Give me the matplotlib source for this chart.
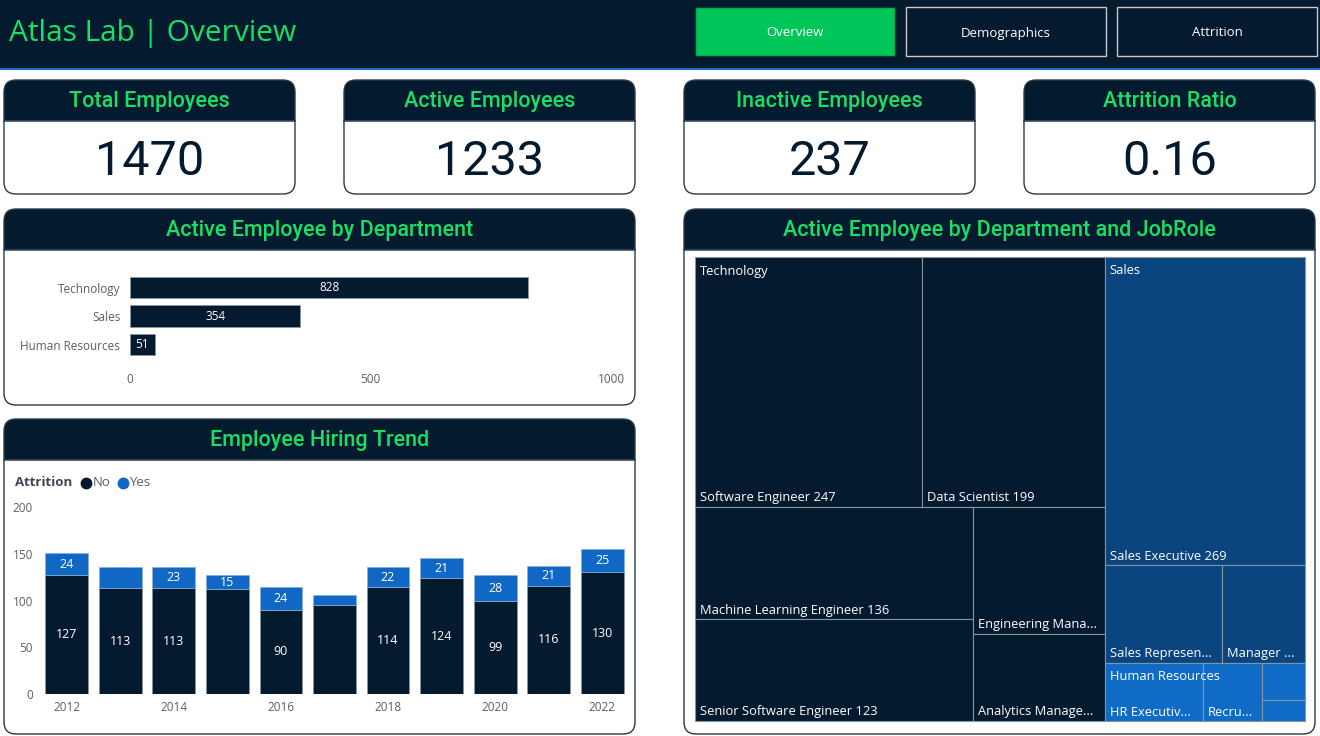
import matplotlib
matplotlib.use('Agg')
import matplotlib.pyplot as plt
from matplotlib.patches import FancyBboxPatch, Rectangle

# ---------------- data ----------------
kpi_titles = ['Total Employees', 'Active Employees', 'Inactive Employees', 'Attrition Ratio']
kpi_values = ['1470', '1233', '237', '0.16']

dept_names = ['Technology', 'Sales', 'Human Resources']
dept_active = [828, 354, 51]

years = [2012, 2013, 2014, 2015, 2016, 2017, 2018, 2019, 2020, 2021, 2022]
hired_no = [127, 113, 113, 112, 90, 95, 114, 124, 99, 116, 130]
hired_yes = [24, 23, 23, 15, 24, 11, 22, 21, 28, 21, 25]
show_no_label = [1, 1, 1, 0, 1, 0, 1, 1, 1, 1, 1]
show_yes_label = [1, 0, 1, 1, 1, 0, 1, 1, 1, 1, 1]

tm_groups = ['Technology'] * 6 + ['Sales'] * 3 + ['Human Resources'] * 4
tm_roles = ['Software Engineer', 'Data Scientist', 'Machine Learning Engineer',
            'Senior Software Engineer', 'Engineering Manager', 'Analytics Manager',
            'Sales Executive', 'Sales Representative', 'Manager',
            'HR Executive', 'Recruiter', 'HR Manager', 'HR Business Partner']
tm_values = [247, 199, 136, 123, 73, 50, 269, 50, 35, 25, 15, 7, 4]

nav_buttons = ['Overview', 'Demographics', 'Attrition']

# ---------------- style ----------------
W, H = 1320, 736
DARK = '#041A2F'
GREEN = '#19E064'
BTN_GREEN = '#00C65A'
BLUE = '#1168C4'
GROUP_COLORS = {'Technology': '#041A2F', 'Sales': '#0A4580', 'Human Resources': '#0F6BC5'}
GRAY = '#605E5C'
TITLE_FONT = ['Roboto', 'DejaVu Sans']
BODY_FONT = ['Open Sans', 'DejaVu Sans']

plt.rcParams['font.family'] = BODY_FONT

fig = plt.figure(figsize=(W / 100, H / 100), dpi=100)
fig.patch.set_facecolor('white')
ax0 = fig.add_axes([0, 0, 1, 1])
ax0.set_xlim(0, W)
ax0.set_ylim(H, 0)
ax0.axis('off')


def fax(l, t, r, b):
    a = fig.add_axes([l / W, 1 - b / H, (r - l) / W, (b - t) / H])
    a.patch.set_alpha(0)
    return a


# ---------------- header ----------------
ax0.add_patch(Rectangle((0, 0), W, 68, fc=DARK, ec='none', zorder=1))
ax0.plot([0, W], [68.5, 68.5], color='#1A6EC0', lw=1.5, zorder=2)
ax0.text(9, 34, 'Atlas Lab | Overview', color=GREEN, fontsize=21.5, family=BODY_FONT,
         va='center', ha='left', zorder=3)

btn_x = [695, 906, 1117]
for i, name in enumerate(nav_buttons):
    x = btn_x[i]
    if i == 0:
        ax0.add_patch(Rectangle((x, 7), 200, 49, fc=BTN_GREEN, ec='#0B3B2A', lw=1, zorder=3))
    else:
        ax0.add_patch(Rectangle((x, 7), 200, 49, fc=DARK, ec='#C8C8C8', lw=1, zorder=3))
    ax0.text(x + 100, 33, name, color='white', fontsize=9.5, ha='center', va='center', zorder=4)


# ---------------- cards ----------------
def card(x0, y0, x1, y1, hb, title, r=12):
    ax0.add_patch(FancyBboxPatch((x0, y0), x1 - x0, y1 - y0,
                                 boxstyle=f'round,pad=0,rounding_size={r}',
                                 fc=DARK, ec='none', zorder=1))
    ax0.add_patch(FancyBboxPatch((x0, hb), x1 - x0, y1 - hb,
                                 boxstyle=f'round,pad=0,rounding_size={r}',
                                 fc='white', ec='none', zorder=2))
    ax0.add_patch(Rectangle((x0, hb), x1 - x0, r + 2, fc='white', ec='none', zorder=2))
    ax0.plot([x0, x1], [hb, hb], color='#3A4C5E', lw=1.2, zorder=3)
    ax0.add_patch(FancyBboxPatch((x0, y0), x1 - x0, y1 - y0,
                                 boxstyle=f'round,pad=0,rounding_size={r}',
                                 fc='none', ec='#2E3A46', lw=1, zorder=4))
    ax0.text((x0 + x1) / 2, (y0 + hb) / 2 + 1, title, color=GREEN, fontsize=15.5,
             family=TITLE_FONT, fontweight='medium', ha='center', va='center', zorder=5)


kpi_x = [4, 344, 684, 1024]
for i in range(4):
    x = kpi_x[i]
    card(x, 80, x + 291, 194, 121, kpi_titles[i])
    ax0.text(x + 145.5, 162, kpi_values[i], color=DARK, fontsize=35, family=TITLE_FONT,
             ha='center', va='center', zorder=5)

card(4, 209, 635, 405, 250, 'Active Employee by Department')
card(4, 419, 635, 734, 460, 'Employee Hiring Trend')
card(684, 209, 1315, 734, 250, 'Active Employee by Department and JobRole')

# ---------------- bar chart ----------------
axb = fax(130, 273.25, 611, 358.75)
ypos = list(range(len(dept_names)))
axb.barh(ypos, dept_active, height=0.74, color=DARK, edgecolor='#8a96a3', lw=0.6)
axb.set_xlim(0, 1000)
axb.set_ylim(len(dept_names) - 0.5, -0.5)
axb.set_yticks(ypos)
axb.set_yticklabels(dept_names)
axb.set_xticks([0, 500, 1000])
axb.tick_params(axis='both', length=0, labelsize=8.5, labelcolor=GRAY)
axb.tick_params(axis='y', pad=7)
axb.tick_params(axis='x', pad=10)
for s in axb.spines.values():
    s.set_visible(False)
for yb, v in zip(ypos, dept_active):
    axb.text(v / 2, yb, str(v), color='white', fontsize=8.5, ha='center', va='center')

# ---------------- hiring trend ----------------
axh = fax(40, 507, 629, 694)
axh.bar(years, hired_no, width=0.8, color=DARK, edgecolor='#8a96a3', lw=0.5)
axh.bar(years, hired_yes, width=0.8, bottom=hired_no, color=BLUE, edgecolor='#8ab0d8', lw=0.5)
axh.set_xlim(2011.5, 2022.5)
axh.set_ylim(0, 200)
axh.set_yticks([0, 50, 100, 150, 200])
axh.set_xticks(years[::2])
axh.tick_params(axis='both', length=0, labelsize=8.5, labelcolor=GRAY)
axh.tick_params(axis='y', pad=5)
axh.tick_params(axis='x', pad=5)
for s in axh.spines.values():
    s.set_visible(False)
for yr, n, y, sn, sy in zip(years, hired_no, hired_yes, show_no_label, show_yes_label):
    if sn:
        axh.text(yr, n / 2, str(n), color='white', fontsize=9, ha='center', va='center')
    if sy:
        axh.text(yr, n + y / 2, str(y), color='white', fontsize=9, ha='center', va='center')

# legend
ax0.text(15, 483, 'Attrition', color='#3D4650', fontsize=9.5, fontweight='bold',
         ha='left', va='center', zorder=6)
ax0.plot([86], [483], 'o', color=DARK, ms=7.5, zorder=6)
ax0.text(92.5, 483, 'No', color=GRAY, fontsize=9.5, ha='left', va='center', zorder=6)
ax0.plot([123], [483], 'o', color=BLUE, ms=7.5, zorder=6)
ax0.text(129.5, 483, 'Yes', color=GRAY, fontsize=9.5, ha='left', va='center', zorder=6)

# ---------------- treemap ----------------
PHI = (1 + 5 ** 0.5) / 2


def squarify(values, x0, y0, x1, y1):
    rects = [None] * len(values)
    n = len(values)
    i0 = 0
    value = float(sum(values))
    while i0 < n:
        dx, dy = x1 - x0, y1 - y0
        i1 = i0
        s = values[i1]
        i1 += 1
        mn = mx = s
        alpha = max(dy / dx, dx / dy) / (value * PHI)
        beta = s * s * alpha
        minr = max(mx / beta, beta / mn)
        while i1 < n:
            v = values[i1]
            s2 = s + v
            mn2, mx2 = min(mn, v), max(mx, v)
            beta = s2 * s2 * alpha
            nr = max(mx2 / beta, beta / mn2)
            if nr > minr:
                break
            s, mn, mx, minr = s2, mn2, mx2, nr
            i1 += 1
        row = range(i0, i1)
        if dx < dy:
            ny = y0 + dy * s / value
            cx = x0
            for k in row:
                w = dx * values[k] / s
                rects[k] = (cx, y0, cx + w, ny)
                cx += w
            y0 = ny
        else:
            nx = x0 + dx * s / value
            cy = y0
            for k in row:
                h = dy * values[k] / s
                rects[k] = (x0, cy, nx, cy + h)
                cy += h
            x0 = nx
        value -= s
        i0 = i1
    return rects


group_order = []
for g in tm_groups:
    if g not in group_order:
        group_order.append(g)
group_vals = [sum(v for gg, v in zip(tm_groups, tm_values) if gg == g) for g in group_order]
order = sorted(range(len(group_order)), key=lambda i: -group_vals[i])
group_order = [group_order[i] for i in order]
group_vals = [group_vals[i] for i in order]
grects = squarify(group_vals, 695, 257, 1305, 721)

renderer = fig.canvas.get_renderer()


def text_width(s, size):
    t = ax0.text(0, 0, s, fontsize=size)
    w = t.get_window_extent(renderer).width
    t.remove()
    return w


LBL = 9.3
for g, gr in zip(group_order, grects):
    idx = [i for i, gg in enumerate(tm_groups) if gg == g]
    idx.sort(key=lambda i: -tm_values[i])
    vals = [tm_values[i] for i in idx]
    lrects = squarify(vals, *gr)
    for i, (x0, y0, x1, y1) in zip(idx, lrects):
        ax0.add_patch(Rectangle((x0, y0), x1 - x0, y1 - y0, fc=GROUP_COLORS[g],
                                ec='#8593A1', lw=0.8, zorder=6))
        full = f'{tm_roles[i]} {tm_values[i]}'
        avail = x1 - x0 - 12
        label = full
        if text_width(full, LBL) > avail:
            label = None
            for k in range(len(full) - 1, 0, -1):
                cand = full[:k] + '...'
                if text_width(cand, LBL) <= avail:
                    label = cand if k >= 4 else None
                    break
        if label and (y1 - y0) > 20:
            ax0.text(x0 + 5, y1 - 9, label, color='white', fontsize=LBL,
                     ha='left', va='center', zorder=8)
    ax0.text(gr[0] + 5, gr[1] + 14, g, color='white', fontsize=LBL,
             ha='left', va='center', zorder=8)

fig.savefig('out.png', dpi=100, facecolor='white')
